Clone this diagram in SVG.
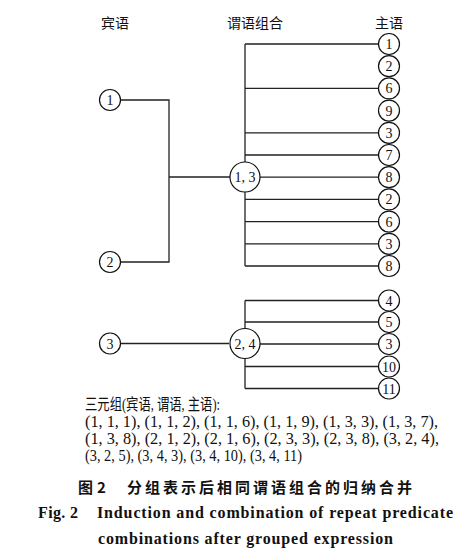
<svg xmlns="http://www.w3.org/2000/svg" width="474" height="553" viewBox="0 0 474 553">
<style>
.ln{stroke:#222;stroke-width:1.3;fill:none}
.nd{fill:#fff;stroke:#111;stroke-width:1.2}
.nt{font-family:"Liberation Serif","Noto Sans CJK SC",serif;font-size:14px;text-anchor:middle;fill:#111}
.hd{font-family:"Liberation Serif","Noto Sans CJK SC",serif;font-size:14px;text-anchor:middle;fill:#111}
.tx{font-family:"Liberation Serif","Noto Sans CJK SC",serif;font-size:16px;fill:#111}
.cc{font-family:"Noto Sans CJK SC",sans-serif;font-size:15px;font-weight:bold;fill:#111}
.ce{font-family:"Liberation Serif",serif;font-size:16px;font-weight:bold;fill:#111}
</style>
<rect width="474" height="553" fill="#fff"/>
<g id="headers">
<text class="hd" x="115" y="28">宾语</text>
<text class="hd" x="255" y="28">谓语组合</text>
<text class="hd" x="389" y="28">主语</text>
</g>
<g id="connectors">
<path class="ln" d="M120.5 100H169V262H120.5M169 177H230"/>
<path class="ln" d="M245 44V266"/>
<path class="ln" d="M245 44H378.5M245 88.4H378.5M245 132.8H378.5M245 155H378.5M260 177.2H378.5M245 199.4H378.5M245 221.6H378.5M245 243.8H378.5M245 266H378.5"/>
<path class="ln" d="M120.5 343.5H229"/>
<path class="ln" d="M245 300.5V388.5M245 300.5H378.5M245 322H378.5M260 344H378.5M245 366.5H378.5M245 388.5H378.5"/>
</g>
<g id="obj1"><circle class="nd" cx="110" cy="100" r="10.5"/><text class="nt" x="110" y="105">1</text></g>
<g id="obj2"><circle class="nd" cx="110" cy="262" r="10.5"/><text class="nt" x="110" y="267">2</text></g>
<g id="obj3"><circle class="nd" cx="110" cy="343.5" r="10.5"/><text class="nt" x="110" y="348.5">3</text></g>
<g id="pred13"><circle class="nd" cx="245" cy="177" r="15"/><text class="nt" x="245" y="182">1, 3</text></g>
<g id="pred24"><circle class="nd" cx="245" cy="343.5" r="15"/><text class="nt" x="245" y="348.5">2, 4</text></g>
<g id="s1"><circle class="nd" cx="389" cy="44" r="10.5"/><text class="nt" x="389" y="49">1</text></g>
<g id="s2"><circle class="nd" cx="389" cy="66.2" r="10.5"/><text class="nt" x="389" y="71.2">2</text></g>
<g id="s3"><circle class="nd" cx="389" cy="88.4" r="10.5"/><text class="nt" x="389" y="93.4">6</text></g>
<g id="s4"><circle class="nd" cx="389" cy="110.6" r="10.5"/><text class="nt" x="389" y="115.6">9</text></g>
<g id="s5"><circle class="nd" cx="389" cy="132.8" r="10.5"/><text class="nt" x="389" y="137.8">3</text></g>
<g id="s6"><circle class="nd" cx="389" cy="155" r="10.5"/><text class="nt" x="389" y="160">7</text></g>
<g id="s7"><circle class="nd" cx="389" cy="177.2" r="10.5"/><text class="nt" x="389" y="182.2">8</text></g>
<g id="s8"><circle class="nd" cx="389" cy="199.4" r="10.5"/><text class="nt" x="389" y="204.4">2</text></g>
<g id="s9"><circle class="nd" cx="389" cy="221.6" r="10.5"/><text class="nt" x="389" y="226.6">6</text></g>
<g id="s10"><circle class="nd" cx="389" cy="243.8" r="10.5"/><text class="nt" x="389" y="248.8">3</text></g>
<g id="s11"><circle class="nd" cx="389" cy="266" r="10.5"/><text class="nt" x="389" y="271">8</text></g>
<g id="s12"><circle class="nd" cx="389" cy="300.5" r="10.5"/><text class="nt" x="389" y="305.5">4</text></g>
<g id="s13"><circle class="nd" cx="389" cy="322" r="10.5"/><text class="nt" x="389" y="327">5</text></g>
<g id="s14"><circle class="nd" cx="389" cy="344" r="10.5"/><text class="nt" x="389" y="349">3</text></g>
<g id="s15"><circle class="nd" cx="389" cy="366.5" r="10.5"/><text class="nt" x="389" y="371.5">10</text></g>
<g id="s16"><circle class="nd" cx="389" cy="388.5" r="10.5"/><text class="nt" x="389" y="393.5">11</text></g>
<g id="triples">
<text class="tx" x="85" y="410" textLength="135" lengthAdjust="spacingAndGlyphs">三元组(宾语, 谓语, 主语):</text>
<text class="tx" x="85" y="427" textLength="353" lengthAdjust="spacingAndGlyphs">(1, 1, 1), (1, 1, 2), (1, 1, 6), (1, 1, 9), (1, 3, 3), (1, 3, 7),</text>
<text class="tx" x="85" y="444" textLength="354" lengthAdjust="spacingAndGlyphs">(1, 3, 8), (2, 1, 2), (2, 1, 6), (2, 3, 3), (2, 3, 8), (3, 2, 4),</text>
<text class="tx" x="85" y="461" textLength="217" lengthAdjust="spacingAndGlyphs">(3, 2, 5), (3, 4, 3), (3, 4, 10), (3, 4, 11)</text>
</g>
<g id="caption">
<text class="cc" x="78" y="493">图 <tspan x="97">2</tspan></text>
<text class="cc" x="127" y="493" textLength="285" lengthAdjust="spacing">分组表示后相同谓语组合的归纳合并</text>
<text class="ce" x="38" y="518" textLength="40" lengthAdjust="spacing">Fig. 2</text>
<text class="ce" x="97" y="518" textLength="356" lengthAdjust="spacing">Induction and combination of repeat predicate</text>
<text class="ce" x="98" y="544" textLength="295" lengthAdjust="spacing">combinations after grouped expression</text>
</g>
</svg>
